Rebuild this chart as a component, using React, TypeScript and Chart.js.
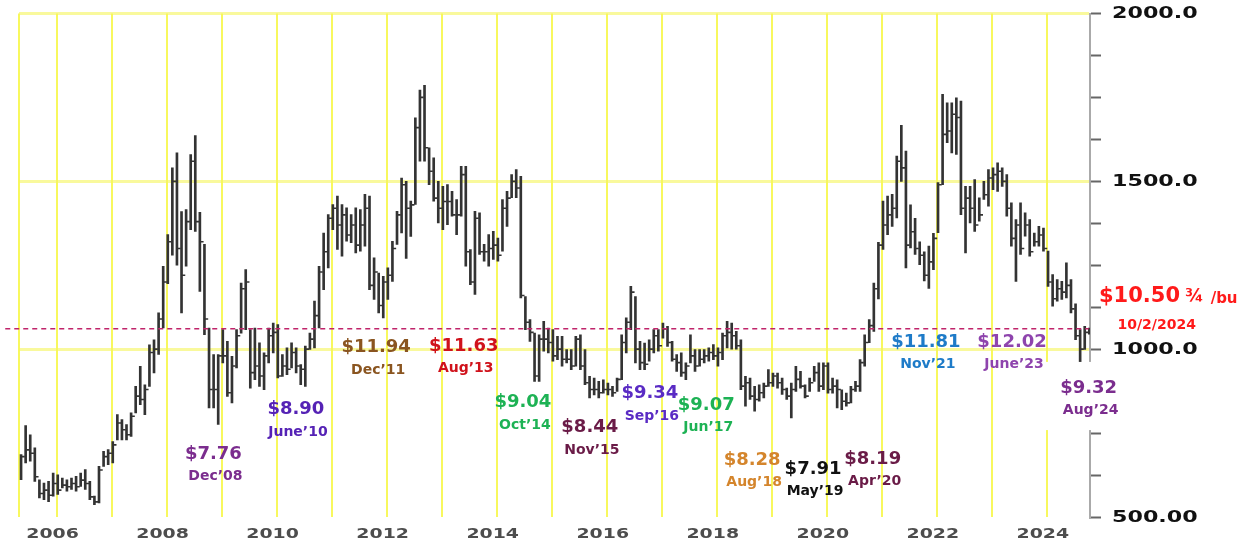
import React, { useEffect, useRef } from 'react';
import { Chart, registerables } from 'chart.js';

Chart.register(...registerables);

// Monthly soybean futures bars, May 2005 – Oct 2024 (cents / bushel)
const FIRST_MONTH = -8; // May 2005, counted in months from Jan 2006

const lows = [
  // 2005 May–Dec
  611, 661, 666, 606, 557, 552, 546, 562,
  // 2006
  567, 587, 577, 582, 577, 591, 582, 552, 537, 542, 651, 656,
  // 2007
  661, 730, 730, 730, 740, 810, 835, 805, 889, 929, 984, 1063,
  // 2008
  1195, 1280, 1250, 1108, 1247, 1356, 1351, 1172, 1043, 825, 825, 776,
  // 2009
  959, 859, 840, 944, 1048, 1058, 884, 909, 889, 879, 959, 989,
  // 2010
  914, 919, 924, 944, 929, 894, 889, 999, 1004, 1063, 1177, 1242,
  // 2011
  1356, 1297, 1277, 1322, 1317, 1287, 1292, 1307, 1177, 1148, 1108, 1093,
  // 2012
  1148, 1202, 1312, 1346, 1270, 1336, 1431, 1560, 1560, 1490, 1441, 1376,
  // 2013
  1356, 1371, 1396, 1341, 1396, 1247, 1192, 1163, 1282, 1262, 1247, 1267,
  // 2014
  1262, 1292, 1366, 1451, 1451, 1153, 1058, 1023, 904, 904, 994, 989,
  // 2015
  964, 969, 949, 959, 939, 949, 939, 894, 855, 864, 855, 869,
  // 2016
  864, 859, 874, 909, 989, 1058, 959, 939, 939, 964, 989, 994,
  // 2017
  1033, 1008, 964, 934, 919, 909, 959, 934, 949, 959, 964, 969,
  // 2018
  949, 969, 1004, 1000, 1000, 879, 830, 850, 815, 845, 855, 889,
  // 2019
  889, 884, 865, 850, 795, 874, 884, 855, 874, 904, 874, 879,
  // 2020
  869, 869, 825, 820, 830, 840, 874, 874, 949, 1019, 1053, 1150,
  // 2021
  1297, 1341, 1366, 1391, 1500, 1242, 1302, 1282, 1252, 1203, 1181, 1237,
  // 2022
  1347, 1490, 1615, 1585, 1580, 1401, 1287, 1376, 1351, 1381, 1446, 1426,
  // 2023
  1475, 1470, 1485, 1396, 1307, 1202, 1282, 1337, 1277, 1307, 1307, 1292,
  // 2024 Jan–Oct
  1187, 1128, 1143, 1148, 1153, 1108, 1028, 932, 999, 1045,
];

const highs = [
  // 2005 May–Dec
  686, 772, 745, 706, 611, 601, 606, 631,
  // 2006
  626, 616, 611, 616, 621, 631, 641, 606, 562, 651, 696, 701,
  // 2007
  725, 805, 790, 775, 810, 889, 949, 894, 1013, 1028, 1108, 1247,
  // 2008
  1341, 1540, 1585, 1410, 1416, 1580, 1636, 1408, 1312, 1063, 984, 984,
  // 2009
  1058, 1023, 979, 1058, 1197, 1237, 1058, 1063, 1019, 989, 1063, 1078,
  // 2010
  1073, 984, 1004, 1019, 1004, 954, 1009, 1048, 1143, 1247, 1346, 1401,
  // 2011
  1431, 1456, 1431, 1421, 1401, 1421, 1416, 1461, 1456, 1272, 1227, 1217,
  // 2012
  1242, 1321, 1411, 1510, 1500, 1441, 1689, 1772, 1786, 1600, 1570, 1500,
  // 2013
  1485, 1490, 1470, 1446, 1545, 1545, 1297, 1411, 1406, 1312, 1341, 1351,
  // 2014
  1331, 1446, 1470, 1520, 1535, 1515, 1157, 1088, 1048, 1043, 1083, 1063,
  // 2015
  1058, 1038, 1038, 999, 999, 1038, 1043, 999, 919, 914, 904, 909,
  // 2016
  899, 889, 914, 1043, 1093, 1187, 1157, 1023, 1018, 1028, 1058, 1058,
  // 2017
  1078, 1068, 1023, 984, 989, 959, 1043, 999, 999, 999, 1004, 1014,
  // 2018
  1004, 1048, 1083, 1078, 1053, 1028, 919, 914, 889, 894, 899, 939,
  // 2019
  929, 929, 914, 884, 899, 949, 934, 894, 914, 949, 959, 959,
  // 2020
  959, 914, 909, 879, 869, 889, 904, 969, 1043, 1088, 1197, 1318,
  // 2021
  1441, 1456, 1461, 1575, 1667, 1590, 1430, 1390, 1320, 1290, 1307, 1345,
  // 2022
  1496, 1759, 1734, 1734, 1749, 1739, 1485, 1485, 1505, 1451, 1500, 1535,
  // 2023
  1540, 1555, 1540, 1520, 1436, 1386, 1436, 1406, 1386, 1346, 1366, 1361,
  // 2024 Jan–Oct
  1292, 1222, 1207, 1202, 1257, 1207, 1135, 1058, 1068, 1063,
];

const closes = [
  // 2005 May–Dec
  680, 700, 690, 620, 570, 580, 565, 600,
  // 2006
  580, 595, 590, 600, 590, 610, 600, 560, 545, 640, 680, 690,
  // 2007
  715, 780, 760, 745, 800, 860, 850, 880, 990, 1000, 1090, 1200,
  // 2008
  1320, 1500, 1300, 1220, 1380, 1560, 1380, 1320, 1090, 880, 880, 980,
  // 2009
  980, 870, 950, 1040, 1180, 1200, 930, 950, 920, 980, 1040, 1050,
  // 2010
  920, 950, 940, 990, 950, 940, 1000, 1030, 1100, 1230, 1290, 1390,
  // 2011
  1420, 1370, 1400, 1340, 1370, 1310, 1370, 1420, 1190, 1230, 1130, 1200,
  // 2012
  1220, 1300, 1400, 1490, 1420, 1430, 1660, 1750, 1600, 1530, 1450, 1420,
  // 2013
  1440, 1440, 1400, 1400, 1520, 1290, 1200, 1390, 1290, 1290, 1300, 1310,
  // 2014
  1280, 1420, 1450, 1500, 1480, 1160, 1080, 1050, 920, 1030, 1030, 1020,
  // 2015
  980, 1000, 970, 970, 950, 1030, 950, 900, 880, 880, 870, 880,
  // 2016
  880, 870, 910, 1020, 1080, 1170, 1000, 960, 955, 1000, 1040, 1010,
  // 2017
  1060, 1020, 970, 960, 930, 950, 980, 950, 970, 980, 990, 980,
  // 2018
  990, 1040, 1050, 1040, 1010, 890, 900, 860, 850, 870, 890, 900,
  // 2019
  920, 900, 880, 860, 880, 910, 890, 860, 900, 930, 890, 950,
  // 2020
  880, 890, 880, 845, 840, 880, 890, 960, 1020, 1070, 1180, 1310,
  // 2021
  1370, 1400, 1420, 1560, 1540, 1310, 1350, 1300, 1280, 1220, 1260, 1330,
  // 2022
  1490, 1640, 1650, 1700, 1690, 1420, 1450, 1420, 1370, 1400, 1460, 1510,
  // 2023
  1520, 1530, 1500, 1420, 1330, 1370, 1300, 1370, 1290, 1320, 1340, 1300,
  // 2024 Jan–Oct
  1200, 1150, 1180, 1170, 1190, 1120, 1040, 1000, 1050, 1051,
];

const currentPrice = 1061;

const gridYears = [2006, 2007, 2008, 2009, 2010, 2011, 2012, 2013, 2014, 2015, 2016, 2017, 2018, 2019, 2020, 2021, 2022, 2023, 2024];
const yearLabels = ['2006', '2008', '2010', '2012', '2014', '2016', '2018', '2020', '2022', '2024'];
const yLabelValues = [500, 1000, 1500, 2000];
const yLabelTexts = ['500.00', '1000.0', '1500.0', '2000.0'];

const notes = [
  { price: '$7.76', date: 'Dec’08', color: '#7B2D8E', t: 34.1, v: 688 },
  { price: '$8.90', date: 'June’10', color: '#5522B5', t: 52.1, v: 820 },
  { price: '$11.94', date: 'Dec’11', color: '#8A5520', t: 69.6, v: 1005 },
  { price: '$11.63', date: 'Aug’13', color: '#D0121B', t: 88.7, v: 1009 },
  { price: '$9.04', date: 'Oct’14', color: '#1DB254', t: 101.6, v: 841 },
  { price: '$8.44', date: 'Nov’15', color: '#6A1B47', t: 116.2, v: 767 },
  { price: '$9.34', date: 'Sep’16', color: '#5A2BC4', t: 129.3, v: 868 },
  { price: '$9.07', date: 'Jun’17', color: '#1DB254', t: 141.6, v: 834 },
  { price: '$8.28', date: 'Aug’18', color: '#D4852C', t: 151.6, v: 670 },
  { price: '$7.91', date: 'May’19', color: '#111111', t: 164.9, v: 642 },
  { price: '$8.19', date: 'Apr’20', color: '#6A1B47', t: 177.9, v: 673 },
  { price: '$11.81', date: 'Nov’21', color: '#1E7BC8', t: 189.5, v: 1021 },
  { price: '$12.02', date: 'June’23', color: '#8E44AD', t: 208.3, v: 1021 },
  { price: '$9.32', date: 'Aug’24', color: '#7B2D8E', t: 225.0, v: 884 },
];

const X_MIN = -8.3;
const X_MAX = 225.3;
const BAR_SHIFT = 0.15;

const FONT = '"DejaVu Sans", Verdana, sans-serif';

const overlayPlugin = {
  id: 'overlay',
  afterDatasetsDraw(chart: any) {
    const { ctx, scales } = chart;
    const x = scales.x;
    const y = scales.y;
    // white label backing box near the last bars
    const bx0 = x.getPixelForValue(215.5);
    const bx1 = x.getPixelForValue(233.0);
    const by0 = y.getPixelForValue(962);
    const by1 = y.getPixelForValue(759);
    ctx.save();
    ctx.fillStyle = '#ffffff';
    ctx.fillRect(bx0, by0, bx1 - bx0, by1 - by0);
    ctx.restore();
  },
  afterDraw(chart: any) {
    const { ctx, scales, chartArea } = chart;
    const x = scales.x;
    const y = scales.y;
    ctx.save();
    // y labels (stretched bold)
    ctx.fillStyle = '#111';
    ctx.font = `bold 15px ${FONT}`;
    ctx.textAlign = 'left';
    ctx.textBaseline = 'middle';
    yLabelValues.forEach((v, i) => {
      const py = y.getPixelForValue(v);
      ctx.save();
      ctx.translate(chartArea.right + 22, py + 1);
      ctx.scale(1.48, 1);
      ctx.fillText(yLabelTexts[i], 0, 0);
      ctx.restore();
    });
    // x labels
    ctx.fillStyle = '#4d4d4d';
    ctx.font = `bold 14px ${FONT}`;
    ctx.textAlign = 'center';
    yearLabels.forEach((lbl) => {
      const t = (Number(lbl) - 2006) * 12;
      const px = x.getPixelForValue(t) - 4.5;
      ctx.save();
      ctx.translate(px, chartArea.bottom + 17);
      ctx.scale(1.35, 1);
      ctx.fillText(lbl, 0, 0);
      ctx.restore();
    });
    // annotations
    notes.forEach((n) => {
      const px = x.getPixelForValue(n.t);
      const py = y.getPixelForValue(n.v);
      ctx.fillStyle = n.color;
      ctx.font = `bold 18px ${FONT}`;
      ctx.fillText(n.price, px, py);
      ctx.font = `bold 14px ${FONT}`;
      ctx.fillText(n.date, px + 2, py + 22.5);
    });
    // current price label
    ctx.fillStyle = '#FF1A1A';
    ctx.textAlign = 'left';
    let cx = x.getPixelForValue(227.26);
    const cy = y.getPixelForValue(1156);
    ctx.font = `bold 21px ${FONT}`;
    ctx.fillText('$10.50', cx, cy);
    cx += ctx.measureText('$10.50').width + 5;
    ctx.font = `bold 18px ${FONT}`;
    ctx.fillText('¾', cx, cy + 1);
    cx += ctx.measureText('¾').width + 7;
    ctx.font = `bold 15px ${FONT}`;
    ctx.fillText('/bu', cx, cy + 2);
    ctx.font = `bold 14px ${FONT}`;
    ctx.textAlign = 'center';
    ctx.fillText('10/2/2024', x.getPixelForValue(239.85), y.getPixelForValue(1072));
    ctx.restore();
  },
};

export default function App() {
  const ref = useRef<HTMLCanvasElement | null>(null);

  useEffect(() => {
    if (!ref.current) return;
    const barData = lows.map((lo, k) => ({ x: FIRST_MONTH + k + BAR_SHIFT, y: [lo, highs[k]] }));
    const closeData = closes.map((c, k) => ({ x: FIRST_MONTH + k + BAR_SHIFT + 0.42, y: c }));
    const chart = new Chart(ref.current, {
      type: 'bar',
      data: {
        datasets: [
          {
            type: 'line',
            data: [
              { x: X_MIN - 3, y: currentPrice },
              { x: X_MAX - 0.3, y: currentPrice },
            ],
            borderColor: '#C0246A',
            borderWidth: 1.6,
            borderDash: [5, 4],
            pointRadius: 0,
            clip: false,
            order: 0,
          } as any,
          {
            type: 'line',
            data: closeData,
            showLine: false,
            pointStyle: 'line',
            pointRadius: 1.8,
            pointBorderWidth: 1.6,
            pointBorderColor: '#333',
            pointBackgroundColor: '#333',
            order: 1,
          } as any,
          {
            type: 'bar',
            data: barData as any,
            backgroundColor: '#333',
            borderWidth: 0,
            barThickness: 2,
            order: 2,
          } as any,
        ],
      },
      options: {
        responsive: false,
        animation: false,
        events: [],
        layout: { padding: { left: 19, top: 13.5, right: 0, bottom: 0 } },
        plugins: { legend: { display: false }, tooltip: { enabled: false } },
        scales: {
          x: {
            type: 'linear',
            min: X_MIN,
            max: X_MAX,
            offset: false,
            afterBuildTicks: (scale: any) => {
              scale.ticks = [{ value: X_MIN }, ...gridYears.map((yr) => ({ value: (yr - 2006) * 12 }))];
            },
            afterFit: (scale: any) => {
              scale.height = 27;
            },
            ticks: { display: false },
            grid: { color: 'rgba(245,245,40,0.75)', lineWidth: 2, drawTicks: false, offset: false },
            border: { display: false },
          },
          y: {
            type: 'linear',
            position: 'right',
            min: 500,
            max: 2000,
            afterFit: (scale: any) => {
              scale.width = 159;
            },
            ticks: { display: false, stepSize: 125 },
            grid: {
              color: (c: any) =>
                c.tick && [1000, 1500, 2000].includes(c.tick.value) ? 'rgba(245,245,90,0.6)' : 'rgba(0,0,0,0)',
              lineWidth: 3,
              drawTicks: true,
              tickLength: 11,
              tickWidth: 2,
              tickColor: '#666',
            },
            border: { display: true, color: '#aaa', width: 2 },
          },
        },
      } as any,
      plugins: [overlayPlugin],
    });
    return () => chart.destroy();
  }, []);

  return (
    <div style={{ position: 'fixed', left: 0, top: 0, width: 1249, height: 544, background: '#fff' }}>
      <canvas ref={ref} width={1249} height={544} style={{ display: 'block' }} />
    </div>
  );
}
